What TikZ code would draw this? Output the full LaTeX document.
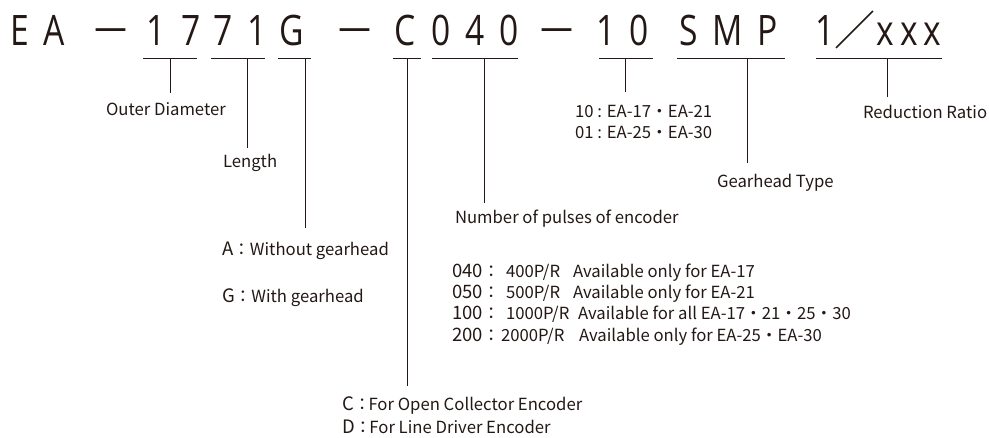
\documentclass[tikz,border=0pt]{standalone}
\usepackage{fontspec}
\setmainfont{Noto Sans CJK JP}
\newfontfamily\codefont[FakeStretch=0.8]{Open Sans}
\newfontfamily\cjkcode{Noto Sans CJK JP}
\definecolor{ink}{RGB}{35,24,21}
\newcommand{\pfx}[1]{{\fontsize{18.5}{20}\selectfont #1}}
\begin{document}
\begin{tikzpicture}[x=1pt,y=-1pt,
  every node/.style={inner sep=0pt,outer sep=0pt,text=ink},
  code/.style={font=\codefont\fontsize{42}{42}\selectfont,anchor=base},
  codecjk/.style={font=\cjkcode\fontsize{41}{41}\selectfont,anchor=base},
  lbl/.style={font=\fontsize{16.7}{18}\selectfont,anchor=base west},
  rule/.style={draw=ink,line width=0.9pt}]
\useasboundingbox (0,0) rectangle (989,437);
% code characters
\node[code] (c1) at (20,45) {E};
\node[code] (c2) at (54,45) {A};
\node[codecjk] (c3) at (111,45) {－};
\node[code] (c4) at (156,45) {1};
\node[code] (c5) at (191,45) {7};
\node[code] (c6) at (223,45) {7};
\node[code] (c7) at (257,45) {1};
\node[code] (c8) at (292,45) {G};
\node[codecjk] (c9) at (355,45) {－};
\node[code] (c10) at (405,45) {C};
\node[code] (c11) at (441,45) {0};
\node[code] (c12) at (475,45) {4};
\node[code] (c13) at (509,45) {0};
\node[codecjk] (c14) at (557,45) {－};
\node[code] (c15) at (606,45) {1};
\node[code] (c16) at (639,45) {0};
\node[code] (c17) at (689,45) {S};
\node[code] (c18) at (728,45) {M};
\node[code] (c19) at (768,45) {P};
\node[code] (c20) at (825,45) {1};
\node[codecjk] (c21) at (855,45) {／};
\node[code] (c22) at (885,45) {x};
\node[code] (c23) at (909,45) {x};
\node[code] (c24) at (932,45) {x};
% labels
\node[lbl] (od) at (106,115) {Outer Diameter};
\node[lbl] (len) at (223,167) {Length};
\node[lbl] (ga) at (222,255) {\pfx{A}：Without gearhead};
\node[lbl] (gg) at (222,302) {\pfx{G}：With gearhead};
\node[lbl] (np) at (455,223) {Number of pulses of encoder};
\node[lbl] (t10) at (575,117) {10 : EA-17・EA-21};
\node[lbl] (t01) at (575,138) {01 : EA-25・EA-30};
\node[lbl] (gt) at (717,187) {Gearhead Type};
\node[lbl] (rr) at (863,118) {Reduction Ratio};
\node[lbl] (r1p) at (452,277) {\pfx{040}：};
\node[lbl] (r1v) at (506,277) {400P/R};
\node[lbl] (r1d) at (573,277) {Available only for EA-17};
\node[lbl] (r2p) at (452,298) {\pfx{050}：};
\node[lbl] (r2v) at (506,298) {500P/R};
\node[lbl] (r2d) at (573,298) {Available only for EA-21};
\node[lbl] (r3p) at (452,319) {\pfx{100}：};
\node[lbl] (r3v) at (506,319) {1000P/R};
\node[lbl] (r3d) at (578,319) {Available for all EA-17・21・25・30};
\node[lbl] (r4p) at (452,341) {\pfx{200}：};
\node[lbl] (r4v) at (501,341) {2000P/R};
\node[lbl] (r4d) at (579,341) {Available only for EA-25・EA-30};
\node[lbl] (ec) at (342,410) {\pfx{C}：\kern-2pt For Open Collector Encoder};
\node[lbl] (ed) at (342,433) {\pfx{D}：\kern-2pt For Line Driver Encoder};
% underline brackets
\coordinate (u1l) at (143,58); \coordinate (u1r) at (197,58); \coordinate (u1m) at (170,58); \coordinate (v1) at (170,93);
\coordinate (u2l) at (211,58); \coordinate (u2r) at (265,58); \coordinate (u2m) at (247,58); \coordinate (v2) at (247,148);
\coordinate (u3l) at (278,58); \coordinate (u3r) at (311,58); \coordinate (u3m) at (305,58); \coordinate (v3) at (305,228);
\coordinate (u4l) at (393,58); \coordinate (u4r) at (421,58); \coordinate (u4m) at (407,58); \coordinate (v4) at (407,386);
\coordinate (u5l) at (432,58); \coordinate (u5r) at (518,58); \coordinate (u5m) at (484,58); \coordinate (v5) at (484,203);
\coordinate (u6l) at (599,58); \coordinate (u6r) at (653,58); \coordinate (u6m) at (625,58); \coordinate (v6) at (625,92);
\coordinate (u7l) at (677,58); \coordinate (u7r) at (785,58); \coordinate (u7m) at (747,58); \coordinate (v7) at (747,163);
\coordinate (u8l) at (816,58); \coordinate (u8r) at (942,58); \coordinate (u8m) at (887,58); \coordinate (v8) at (887,97);
\foreach \i in {1,...,8}{
  \draw[rule] (u\i l) -- (u\i r);
  \draw[rule] (u\i m) -- (v\i);
}
\end{tikzpicture}
\end{document}
